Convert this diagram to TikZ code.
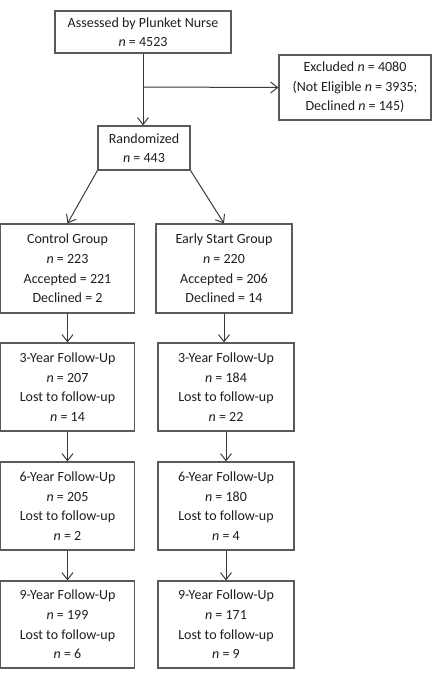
\documentclass[tikz,border=0pt]{standalone}
\usepackage{fontspec}
\setmainfont{Carlito}
\usepackage{tikz}
\usetikzlibrary{arrows.meta,positioning}
\definecolor{BoxGray}{HTML}{5A5A5A}
\definecolor{LineGray}{HTML}{3A3A3A}
\definecolor{Ink}{HTML}{1E1E1E}

\begin{document}
\begin{tikzpicture}[x=1pt,y=-1pt,
  box/.style={draw=BoxGray,line width=1.2pt,inner sep=0pt,align=center,text=Ink,font=\fontsize{14}{19.6}\selectfont},
  arr/.style={-{Straight Barb[length=7pt,width=11pt,line width=1pt]},line width=1pt,draw=LineGray}
]
\useasboundingbox (0,0) rectangle (440,678);
\node[box,minimum width=176pt,minimum height=42pt] (assess) at (143,32) {Assessed by Plunket Nurse\\\textit{n} = 4523};
\node[box,minimum width=152pt,minimum height=65pt] (excl) at (355,87.5) {Excluded \textit{n} = 4080\\(Not Eligible \textit{n} = 3935;\\Declined \textit{n} = 145)};
\node[box,minimum width=92pt,minimum height=44pt] (rand) at (144,148) {Randomized\\\textit{n} = 443};

\node[box,minimum width=134pt,minimum height=89pt] (ctrl) at (67.5,268.5) {Control Group\\\textit{n} = 223\\Accepted = 221\\Declined = 2};
\node[box,minimum width=136pt,minimum height=89pt] (early) at (224,268.5) {Early Start Group\\\textit{n} = 220\\Accepted = 206\\Declined = 14};

\node[box,minimum width=134pt,minimum height=88pt] (ctrlA) at (67.5,387) {3-Year Follow-Up\\\textit{n} = 207\\Lost to follow-up\\\textit{n} = 14};
\node[box,minimum width=136pt,minimum height=88pt] (earlyA) at (226,387) {3-Year Follow-Up\\\textit{n} = 184\\Lost to follow-up\\\textit{n} = 22};
\node[box,minimum width=134pt,minimum height=88pt] (ctrlB) at (67.5,506) {6-Year Follow-Up\\\textit{n} = 205\\Lost to follow-up\\\textit{n} = 2};
\node[box,minimum width=136pt,minimum height=88pt] (earlyB) at (226,506) {6-Year Follow-Up\\\textit{n} = 180\\Lost to follow-up\\\textit{n} = 4};
\node[box,minimum width=134pt,minimum height=87pt] (ctrlC) at (67.5,624.5) {9-Year Follow-Up\\\textit{n} = 199\\Lost to follow-up\\\textit{n} = 6};
\node[box,minimum width=136pt,minimum height=87pt] (earlyC) at (226,624.5) {9-Year Follow-Up\\\textit{n} = 171\\Lost to follow-up\\\textit{n} = 9};

\coordinate (split) at (143,87);
\draw[arr] (assess.south -| split) -- (rand.north -| split);
\draw[arr] (split) -- (excl.west);
\draw[arr] (rand.south west) -- (ctrl.north);
\draw[arr] (rand.south east) -- (early.north);
\draw[arr] (ctrl) -- (ctrlA);
\draw[arr] (early) -- (early.south |- earlyA.north);
\draw[arr] (ctrlA) -- (ctrlB);
\draw[arr] (earlyA) -- (earlyB);
\draw[arr] (ctrlB) -- (ctrlC);
\draw[arr] (earlyB) -- (earlyC);
\end{tikzpicture}
\end{document}
